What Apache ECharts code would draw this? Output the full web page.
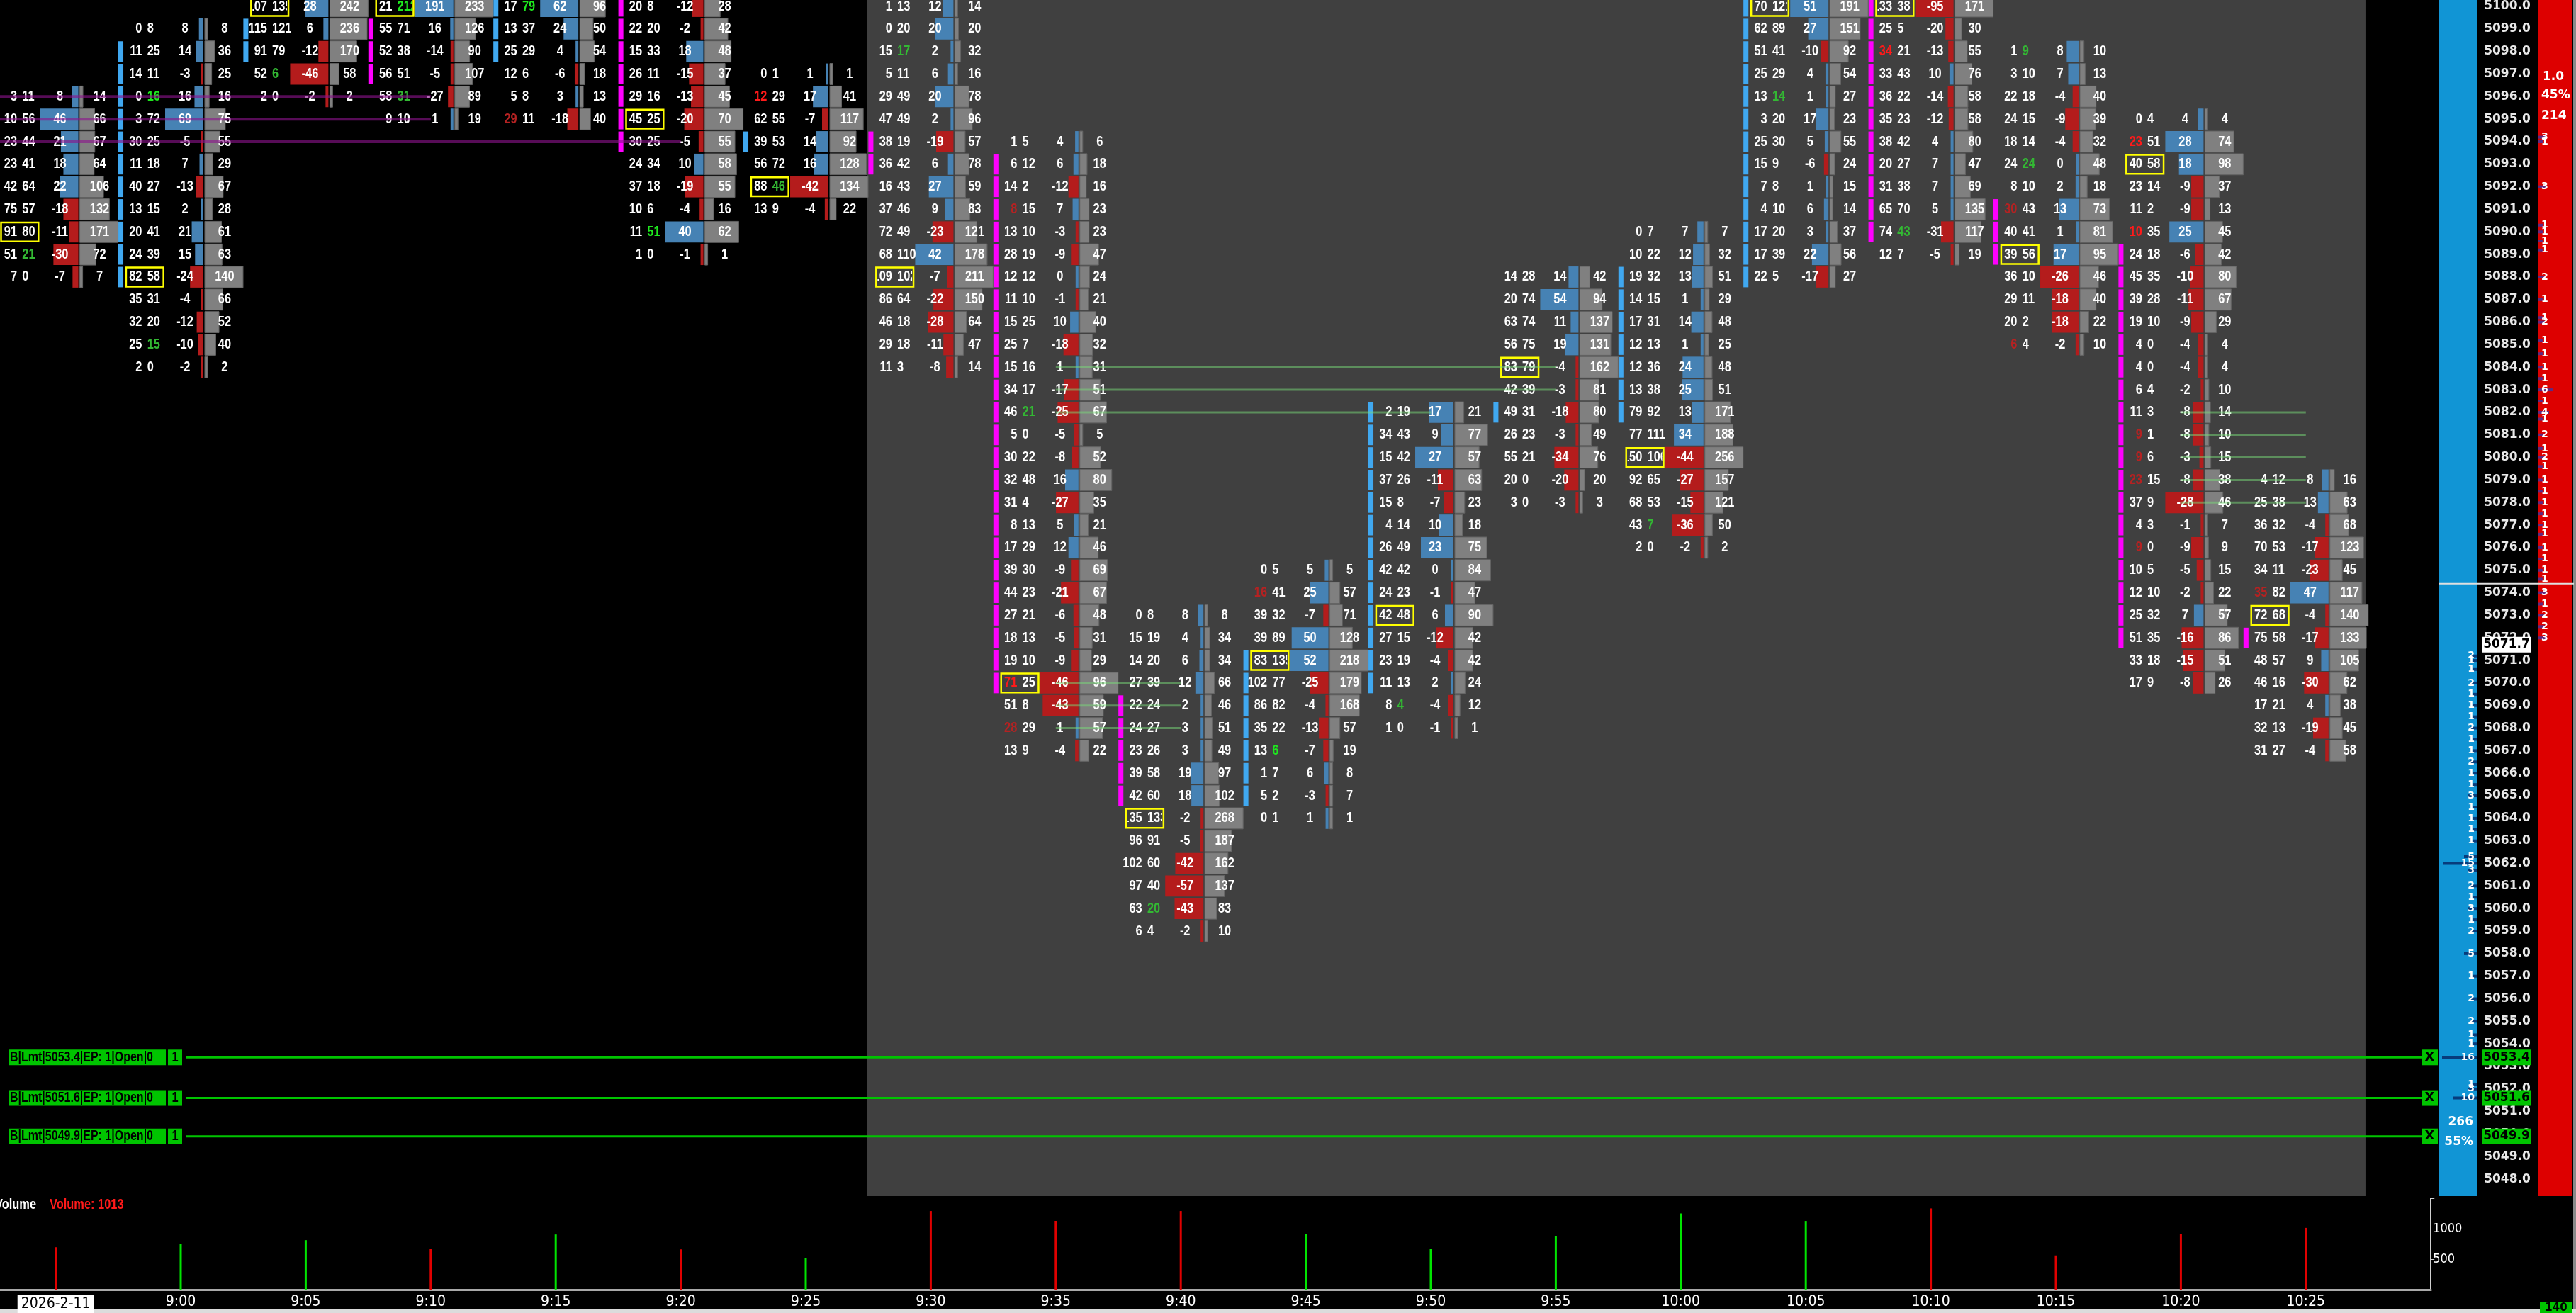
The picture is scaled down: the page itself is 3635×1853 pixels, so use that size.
<!DOCTYPE html>
<html><head><meta charset="utf-8">
<script src="https://cdn.jsdelivr.net/npm/echarts/dist/echarts.min.js"></script>
<style>html,body{margin:0;padding:0;background:#000;overflow:hidden}#c{width:3635px;height:1853px}</style>
</head><body><div id="c"></div><script>
// ---------------- data ----------------
const times = ['2026-2-11','9:00','9:05','9:10','9:15','9:20','9:25','9:30','9:35','9:40','9:45','9:50','9:55','10:00','10:05','10:10','10:15','10:20','10:25'];
const topPrice = [5096,5099,5100,5100,5100,5100,5097,5100,5094,5073,5075,5082,5088,5090,5100,5100,5098,5095,5079];
const bids = [
 [3,10,23,23,42,75,91,51,7],
 [0,11,14,0,3,30,11,40,13,20,24,82,35,32,25,2],
 [107,115,91,52,2],
 [21,55,52,56,58,9],
 [17,13,25,12,5,29],
 [20,22,15,26,29,45,30,24,37,10,11,1],
 [0,12,62,39,56,88,13],
 [1,0,15,5,29,47,38,36,16,37,72,68,109,86,46,29,11],
 [1,6,14,8,13,28,12,11,15,25,15,34,46,5,30,32,31,8,17,39,44,27,18,19,71,51,28,13],
 [0,15,14,27,22,24,23,39,42,135,96,102,97,63,6],
 [0,16,39,39,83,102,86,35,13,1,5,0],
 [2,34,15,37,15,4,26,42,24,42,27,23,11,8,1],
 [14,20,63,56,83,42,49,26,55,20,3],
 [0,10,19,14,17,12,12,13,79,77,150,92,68,43,2],
 [70,62,51,25,13,3,25,15,7,4,17,17,22],
 [133,25,34,33,36,35,38,20,31,65,74,12],
 [1,3,22,24,18,24,8,30,40,39,36,29,20,6],
 [0,23,40,23,11,10,24,45,39,19,4,4,6,11,9,9,23,37,4,9,10,12,25,51,33,17],
 [4,25,36,70,34,35,72,75,48,46,17,32,31]
];
const asks = [
 [11,56,44,41,64,57,80,21,0],
 [8,25,11,16,72,25,18,27,15,41,39,58,31,20,15,0],
 [135,121,79,6,0],
 [212,71,38,51,31,10],
 [79,37,29,6,8,11],
 [8,20,33,11,16,25,25,34,18,6,51,0],
 [1,29,55,53,72,46,9],
 [13,20,17,11,49,49,19,42,43,46,49,110,102,64,18,18,3],
 [5,12,2,15,10,19,12,10,25,7,16,17,21,0,22,48,4,13,29,30,23,21,13,10,25,8,29,9],
 [8,19,20,39,24,27,26,58,60,133,91,60,40,20,4],
 [5,41,32,89,135,77,82,22,6,7,2,1],
 [19,43,42,26,8,14,49,42,23,48,15,19,13,4,0],
 [28,74,74,75,79,39,31,23,21,0,0],
 [7,22,32,15,31,13,36,38,92,111,106,65,53,7,0],
 [121,89,41,29,14,20,30,9,8,10,20,39,5],
 [38,5,21,43,22,23,42,27,38,70,43,7],
 [9,10,18,15,14,24,10,43,41,56,10,11,2,4],
 [4,51,58,14,2,35,18,35,28,10,0,0,4,3,1,6,15,9,3,0,5,10,32,35,18,9],
 [12,38,32,53,11,82,68,58,57,16,21,13,27]
];
const pocPrice = [5090,5088,5100,5100,null,5095,5092,5088,5070,5064,5071,5073,5084,5080,5100,5100,5089,5093,5073];
const hiddenMaxTotal = [0,0,0,0,144,0,0,0,0,0,0,0,0,0,0,0,0,0,0];
// [price, strong(1)/weak(0)]
const askImb = [[[5089,0]],[[5096,1],[5085,0]],[[5097,0]],[[5100,1],[5096,0]],[[5100,1]],[[5090,1]],[[5092,0]],[[5098,0]],[[5082,0]],[[5060,0]],[[5067,1]],[[5069,0]],[],[[5077,0]],[[5096,0]],[[5090,0]],[[5098,0],[5093,0]],[],[]];
const bidImb = [[],[],[],[],[[5095,0]],[],[[5096,1]],[],[[5091,0],[5070,1],[5068,0]],[],[[5074,0]],[],[],[],[],[[5098,1]],[[5091,0],[5085,0]],[[5094,1],[5090,1],[5081,0],[5080,0],[5079,0],[5076,0]],[[5074,0]]];
// [bar, fromPrice, toPrice, kind]  b = blue, m = magenta
const strips = [[1,5098,5088,'b'],[2,5099,5098,'b'],[3,5099,5097,'m'],[4,5100,5098,'b'],[5,5100,5094,'m'],[6,5094,5094,'b'],[7,5094,5093,'m'],[8,5093,5070,'m'],[9,5069,5065,'m'],[10,5071,5065,'b'],[11,5082,5070,'b'],[12,5082,5082,'b'],[13,5088,5082,'b'],[14,5100,5088,'b'],[15,5100,5090,'m'],[16,5091,5089,'m'],[17,5089,5072,'m'],[18,5072,5072,'m']];
// [price, fromBar, toBar, kind]  p = purple, g = green
const levelLines = [[5096,-0.5,3,'p'],[5095,-0.5,3,'p'],[5094,-0.5,5,'p'],[5084,8,12,'g'],[5083,8,12,'g'],[5082,8,11,'g'],[5070,8,9,'g'],[5069,8,9,'g'],[5068,8,9,'g'],[5082,17,18,'g'],[5081,17,18,'g'],[5080,17,18,'g'],[5079,17,18,'g'],[5078,17,18,'g']];
const sessionSpan = [6.493, 18.477];
const volumes = [695,751,812,663,905,660,522,1290,1128,1290,908,668,881,1250,1127,1332,561,918,1013];
const volDir = ['r','g','g','r','g','r','g','r','r','r','g','g','g','g','g','r','r','r','r'];
const orderPrices = [5053.4,5051.6,5049.9];
const lastPrice = 5071.7;
const refLinePrice = 5074.4;
const askDepth = [[5094.2,3],[5094,1],[5092,3],[5090.3,1],[5090,1],[5089.6,1],[5089.2,1],[5088,2],[5087,1],[5086.2,1],[5086,2],[5085.2,1],[5084.6,1],[5084,1],[5083.5,1],[5083,6],[5082.5,1],[5082,4],[5081.7,1],[5081,2],[5080.4,1],[5080,2],[5079.6,1],[5079,1],[5078.5,1],[5078,1],[5077.5,1],[5077,1],[5076.6,1],[5076,1],[5075.5,1],[5075,1],[5074.6,1],[5074,3],[5073.5,1],[5073,2],[5072.5,2],[5072,3]];
const bidDepth = [[5071.2,2],[5071,1],[5070.6,1],[5070,2],[5069.5,1],[5069,1],[5068.5,1],[5068,2],[5067.5,1],[5067,1],[5066.5,2],[5066,1],[5065.5,1],[5065,3],[5064.5,1],[5064,1],[5063.5,1],[5063,1],[5062.3,5],[5062,15],[5061.7,3],[5061,2],[5060.5,1],[5060,3],[5059.5,1],[5059,2],[5058,5],[5057,1],[5056,2],[5055,2],[5054.4,1],[5054,1],[5053.4,16],[5052.2,1],[5052,3],[5051.6,10]];
const askPanel = ['1.0','45%','214'];
const bidPanel = ['266','55%'];
const counter = '140';

// ---------------- build series data ----------------
const TXT = ['#ffffff','#1ee81e','#33b833','#ff1a1a','#b42222'];
function imbColor(list, p, isBid){
  for (const e of list) if (e[0] === p) return isBid ? (e[1] ? 3 : 4) : (e[1] ? 1 : 2);
  return 0;
}
const fpData = [];
for (let i = 0; i < bids.length; i++) {
  let maxD = 1, maxT = Math.max(1, hiddenMaxTotal[i]);
  for (let j = 0; j < bids[i].length; j++) {
    maxD = Math.max(maxD, Math.abs(asks[i][j] - bids[i][j]));
    maxT = Math.max(maxT, asks[i][j] + bids[i][j]);
  }
  for (let j = 0; j < bids[i].length; j++) {
    const p = topPrice[i] - j;
    fpData.push([i, p, bids[i][j], asks[i][j], maxD, maxT, pocPrice[i] === p ? 1 : 0, imbColor(bidImb[i], p, true), imbColor(askImb[i], p, false)]);
  }
}
const stripData = [];
strips.forEach(s => { for (let p = s[1]; p >= s[2]; p--) stripData.push([s[0], p, s[3] === 'm' ? 1 : 0]); });

const FONT = 'bold 20px "Liberation Sans", Arial, sans-serif';
const SX = 0.82;
function txt(x, y, s, align, fill, font, sx) {
  return {type:'text', x:x, y:y, scaleX:(sx || SX), style:{text:String(s), fill:fill, font:(font || FONT), textAlign:align, textVerticalAlign:'middle', align:align, verticalAlign:'middle'}};
}

function renderCell(params, api) {
  const bar = api.value(0), price = api.value(1);
  const bid = api.value(2), ask = api.value(3);
  const maxD = api.value(4), maxT = api.value(5), poc = api.value(6);
  const d = ask - bid, t = ask + bid;
  const c = api.coord([bar, price]);
  const s = api.size([1, 1]);
  const W = s[0], H = s[1], X = c[0], Y = c[1];
  const bh = H - 2;
  const bnd = X + 0.187 * W, maxW = 0.306 * W;
  const dW = Math.max(4, Math.abs(d) / maxD * maxW);
  const tW = Math.max(4, t / maxT * maxW);
  const kids = [
    {type:'rect', shape:{x:bnd - 1 - dW, y:Y - bh / 2, width:dW, height:bh}, style:{fill:d >= 0 ? '#4682b4' : '#b41c1c'}},
    {type:'rect', shape:{x:bnd + 1, y:Y - bh / 2, width:tW, height:bh}, style:{fill:'#808080', stroke:'#646464', lineWidth:1}},
    txt(X + 0.034 * W, Y, d, 'center', '#ffffff'),
    txt(X + 0.351 * W, Y, t, 'center', '#ffffff')
  ];
  const bidT = txt(X - 0.309 * W, Y, bid, 'right', TXT[api.value(7)]);
  const askT = txt(X - 0.268 * W, Y, ask, 'left', TXT[api.value(8)]);
  if (poc) {
    const bx0 = X - 0.437 * W, bx1 = X - 0.138 * W;
    kids.push({type:'group', clipPath:{type:'rect', shape:{x:bx0 + 2, y:Y - bh / 2, width:bx1 - bx0 - 4, height:bh}}, children:[bidT, askT]});
    kids.push({type:'rect', shape:{x:bx0, y:Y - bh / 2 + 1.5, width:bx1 - bx0, height:bh - 3}, style:{fill:'none', stroke:'#ffff00', lineWidth:2.5}});
  } else { kids.push(bidT, askT); }
  return {type:'group', children:kids};
}

function renderStrip(params, api) {
  const c = api.coord([api.value(0), api.value(1)]);
  const s = api.size([1, 1]);
  return {type:'rect', shape:{x:c[0] - 0.499 * s[0], y:c[1] - s[1] / 2 + 1.5, width:0.04 * s[0], height:s[1] - 3}, style:{fill:api.value(2) ? '#ff00ff' : '#40a8f0'}};
}

function renderLine(params, api) {
  const a = api.coord([api.value(1), api.value(0)]);
  const b = api.coord([api.value(2), api.value(0)]);
  const purple = api.value(3) === 1;
  return {type:'line', shape:{x1:a[0], y1:a[1], x2:b[0], y2:b[1]}, style:{stroke:purple ? 'rgba(140,20,140,0.62)' : 'rgba(120,220,120,0.5)', lineWidth:purple ? 4 : 3}};
}

function renderSession(params, api) {
  const a = api.coord([api.value(0), 5100.283]);
  const b = api.coord([api.value(1), 5047.25]);
  return {type:'rect', shape:{x:a[0], y:0, width:b[0] - a[0], height:b[1]}, style:{fill:'#404040'}};
}

const PFONT = 'bold 17px "DejaVu Sans", Verdana, sans-serif';
function priceBox(Y, label, fill) {
  return [
    {type:'rect', shape:{x:3503, y:Y - 11, width:68, height:22}, style:{fill:fill}},
    {type:'text', x:3537, y:Y, style:{text:label, fill:'#000', font:PFONT, textAlign:'center', textVerticalAlign:'middle', align:'center', verticalAlign:'middle'}}
  ];
}
function renderOrder(params, api) {
  const p = api.value(1);
  const Y = api.coord([0, p])[1];
  const g = '#00c400';
  const kids = [
    {type:'line', shape:{x1:262, y1:Y, x2:3417, y2:Y}, style:{stroke:g, lineWidth:3}},
    {type:'rect', shape:{x:12, y:Y - 11, width:222, height:22}, style:{fill:g}},
    txt(14, Y, 'B|Lmt|' + p.toFixed(1) + '|EP: 1|Open|0', 'left', '#000', 'bold 20px "Liberation Sans", Arial, sans-serif', 0.8),
    {type:'rect', shape:{x:237, y:Y - 11, width:20, height:22}, style:{fill:g}},
    txt(247, Y, '1', 'center', '#000'),
    {type:'rect', shape:{x:3417, y:Y - 11, width:23, height:22}, style:{fill:g}},
    txt(3428.5, Y, 'X', 'center', '#000', 'bold 18px "DejaVu Sans", sans-serif', 1)
  ].concat(priceBox(Y, p.toFixed(1), g));
  return {type:'group', children:kids};
}
function renderLast(params, api) {
  const Y = api.coord([0, api.value(1)])[1];
  const ry = api.coord([0, refLinePrice])[1];
  return {type:'group', children:[
    {type:'line', shape:{x1:3442, y1:ry, x2:3632, y2:ry}, style:{stroke:'#e0e0e0', lineWidth:2}}
  ].concat(priceBox(Y, api.value(1).toFixed(1), '#ffffff'))};
}
const DFONT = 'bold 14px "DejaVu Sans", sans-serif';
function renderAskDepth(params, api) {
  const Y = api.coord([0, api.value(1)])[1];
  const n = api.value(2);
  const len = Math.min(45, 4 + n * 3);
  return {type:'group', children:[
    {type:'rect', shape:{x:3581, y:Y - 2, width:len, height:4}, style:{fill:'#5e2a82'}},
    {type:'text', x:3586, y:Y, style:{text:String(n), fill:'#ffffff', font:DFONT, textAlign:'left', textVerticalAlign:'middle', align:'left', verticalAlign:'middle'}}
  ]};
}
function renderBidDepth(params, api) {
  const Y = api.coord([0, api.value(1)])[1];
  const n = api.value(2);
  const len = Math.min(50, 4 + n * 3);
  return {type:'group', children:[
    {type:'rect', shape:{x:3496 - len, y:Y - 2, width:len, height:4}, style:{fill:'#073c7c'}},
    {type:'text', x:3492, y:Y, style:{text:String(n), fill:'#ffffff', font:DFONT, textAlign:'right', textVerticalAlign:'middle', align:'right', verticalAlign:'middle'}}
  ]};
}

const chart = echarts.init(document.getElementById('c'), null, {renderer:'canvas', width:3635, height:1853});
const GL = -9.6, GW = 3439.8;
const TFONT = '"Liberation Sans Narrow", "DejaVu Sans Condensed", "Liberation Sans", sans-serif';
const option = {
  animation:false,
  backgroundColor:'#000000',
  grid:[
    {left:GL, top:0, width:GW, height:1696, containLabel:false, outerBoundsMode:'none'},
    {left:GL, top:1691, width:GW, height:129, containLabel:false, outerBoundsMode:'none'}
  ],
  xAxis:[
    {type:'value', gridIndex:0, min:-0.5, max:19, show:false},
    {type:'value', gridIndex:1, min:-0.5, max:19, interval:0.5,
     axisLine:{show:true, onZero:false, lineStyle:{color:'#a8a8a8', width:3}},
     axisTick:{show:false}, splitLine:{show:false},
     axisLabel:{color:'#ffffff', fontSize:21, fontFamily:TFONT, margin:7,
       formatter:function(v){ const k = Math.round(v * 2) / 2; if (k % 1 !== 0 || k < 0 || k >= times.length) return ''; return k === 0 ? '{d|' + times[0] + '}' : times[k]; },
       rich:{d:{backgroundColor:'#ffffff', color:'#000000', fontSize:21, fontFamily:TFONT, padding:[3,5,2,5]}}}}
  ],
  yAxis:[
    {type:'value', gridIndex:0, min:5047, max:5100.283, interval:1, position:'right',
     axisLine:{show:false, onZero:false}, axisTick:{show:false}, splitLine:{show:false},
     axisLabel:{show:true, showMinLabel:false, showMaxLabel:false, align:'left', margin:75, color:'#e8e8e8', fontSize:17, fontWeight:'bold', fontFamily:'"DejaVu Sans", Verdana, sans-serif',
       formatter:function(v){ return Number.isInteger(Math.round(v*1000)/1000) ? v.toFixed(1) : ''; }}},
    {type:'value', gridIndex:1, min:0, max:1500, interval:500, position:'right',
     axisLine:{show:true, onZero:false, lineStyle:{color:'#d0d0d0', width:2}},
     axisTick:{show:true, length:5, lineStyle:{color:'#d0d0d0'}}, splitLine:{show:false},
     axisLabel:{color:'#ffffff', fontSize:18, margin:3, fontFamily:TFONT,
       formatter:function(v){ return (v === 500 || v === 1000) ? String(v) : ''; }}}
  ],
  series:[
    {type:'custom', name:'session', xAxisIndex:0, yAxisIndex:0, z:1, silent:true, renderItem:renderSession, data:[sessionSpan], encode:{x:[0,1]}},
    {type:'custom', name:'strips', xAxisIndex:0, yAxisIndex:0, z:2, silent:true, renderItem:renderStrip, data:stripData, encode:{x:0, y:1}},
    {type:'custom', name:'footprint', xAxisIndex:0, yAxisIndex:0, z:3, silent:true, renderItem:renderCell, data:fpData, encode:{x:0, y:1}},
    {type:'custom', name:'levels', xAxisIndex:0, yAxisIndex:0, z:4, silent:true, renderItem:renderLine,
     data:levelLines.map(l => [l[0], l[1], l[2], l[3] === 'p' ? 1 : 0]), encode:{x:[1,2], y:0}},
    {type:'custom', name:'askDepth', xAxisIndex:0, yAxisIndex:0, z:5, silent:true, clip:false, renderItem:renderAskDepth, data:askDepth.map(a => [0, a[0], a[1]]), encode:{x:0, y:1}},
    {type:'custom', name:'bidDepth', xAxisIndex:0, yAxisIndex:0, z:5, silent:true, clip:false, renderItem:renderBidDepth, data:bidDepth.map(a => [0, a[0], a[1]]), encode:{x:0, y:1}},
    {type:'custom', name:'orders', xAxisIndex:0, yAxisIndex:0, z:6, silent:true, clip:false, renderItem:renderOrder, data:orderPrices.map(p => [0, p]), encode:{x:0, y:1}},
    {type:'custom', name:'last', xAxisIndex:0, yAxisIndex:0, z:6, silent:true, clip:false, renderItem:renderLast, data:[[0, lastPrice]], encode:{x:0, y:1}},
    {type:'bar', name:'Volume', xAxisIndex:1, yAxisIndex:1, barWidth:3, silent:true,
     data:volumes.map((v, i) => ({value:[i, v], itemStyle:{color:volDir[i] === 'g' ? '#00e400' : '#e00000'}}))}
  ],
  graphic:[
    {type:'rect', z:0, shape:{x:3442, y:0, width:54, height:1688}, style:{fill:'#1195d5'}},
    {type:'rect', z:0, shape:{x:3581, y:0, width:49, height:1688}, style:{fill:'#dd0000'}},
    {type:'rect', z:0, shape:{x:3631, y:0, width:4, height:1853}, style:{fill:'#8a8a8a'}},
    {type:'rect', z:0, shape:{x:0, y:1848, width:3635, height:5}, style:{fill:'#dcdcdc'}},
    {type:'text', z:10, x:3588, y:109, style:{text:askPanel[0], fill:'#ffffff', font:PFONT, textAlign:'left', textVerticalAlign:'middle', align:'left', verticalAlign:'middle'}},
    {type:'text', z:10, x:3586, y:135, style:{text:askPanel[1], fill:'#ffffff', font:PFONT, textAlign:'left', textVerticalAlign:'middle', align:'left', verticalAlign:'middle'}},
    {type:'text', z:10, x:3586, y:164, style:{text:askPanel[2], fill:'#ffffff', font:PFONT, textAlign:'left', textVerticalAlign:'middle', align:'left', verticalAlign:'middle'}},
    {type:'text', z:10, x:3490, y:1584, style:{text:bidPanel[0], fill:'#ffffff', font:PFONT, textAlign:'right', textVerticalAlign:'middle', align:'right', verticalAlign:'middle'}},
    {type:'text', z:10, x:3490, y:1612, style:{text:bidPanel[1], fill:'#ffffff', font:PFONT, textAlign:'right', textVerticalAlign:'middle', align:'right', verticalAlign:'middle'}},
    {type:'rect', z:10, shape:{x:3584, y:1838, width:46, height:15}, style:{fill:'#00c400'}},
    {type:'text', z:11, x:3607, y:1846, style:{text:counter, fill:'#000', font:'bold 15px "DejaVu Sans", sans-serif', textAlign:'center', textVerticalAlign:'middle', align:'center', verticalAlign:'middle'}},
    {type:'text', z:10, x:-7, y:1700, scaleX:0.82, style:{text:'Volume', fill:'#ffffff', font:'bold 20px "Liberation Sans", Arial, sans-serif', textAlign:'left', textVerticalAlign:'middle', align:'left', verticalAlign:'middle'}},
    {type:'text', z:10, x:70, y:1700, scaleX:0.82, style:{text:'Volume: ' + volumes[volumes.length - 1], fill:'#ff1a1a', font:'bold 20px "Liberation Sans", Arial, sans-serif', textAlign:'left', textVerticalAlign:'middle', align:'left', verticalAlign:'middle'}}
  ]
};
chart.setOption(option);
</script></body></html>
